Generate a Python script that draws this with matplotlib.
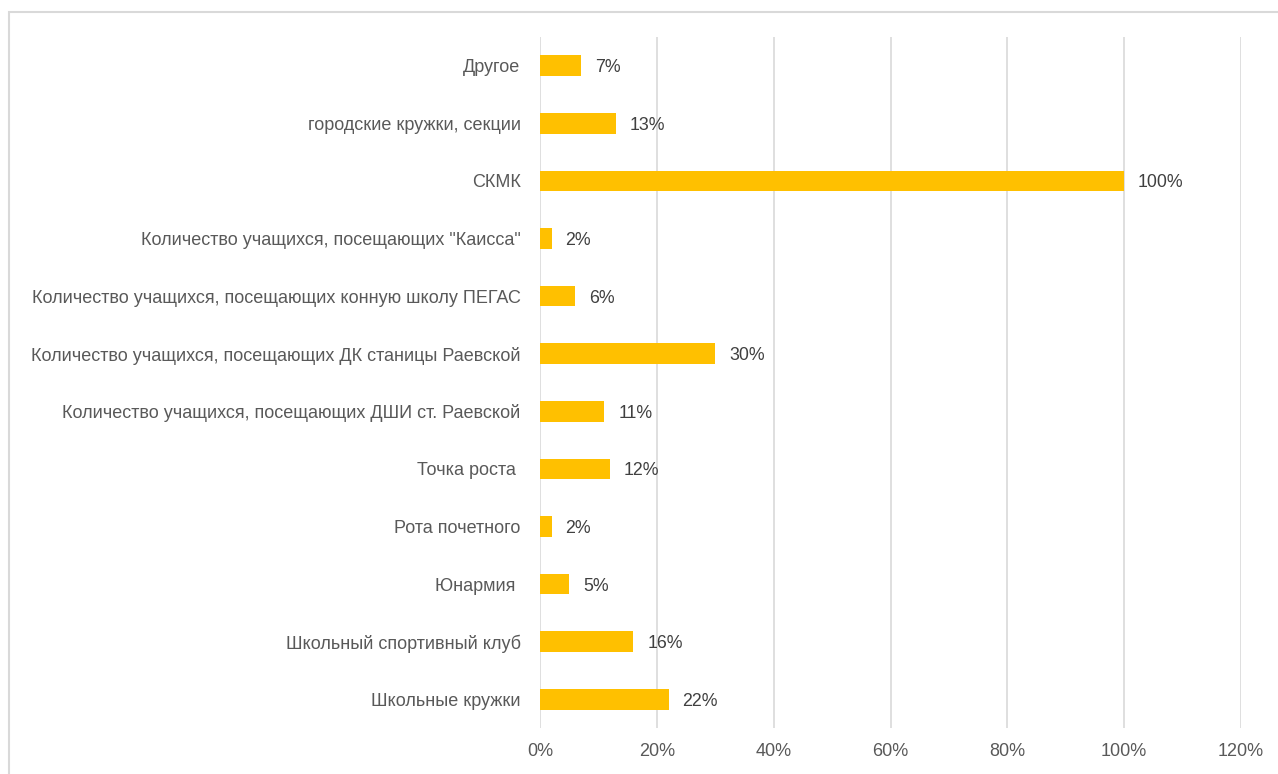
import matplotlib.pyplot as plt
from matplotlib.patches import Rectangle
from matplotlib.ticker import FuncFormatter

categories = [
    "Другое",
    "городские кружки, секции",
    "СКМК",
    'Количество учащихся, посещающих "Каисса"',
    "Количество учащихся, посещающих конную школу ПЕГАС",
    "Количество учащихся, посещающих ДК станицы Раевской",
    "Количество учащихся, посещающих ДШИ ст. Раевской",
    "Точка роста ",
    "Рота почетного",
    "Юнармия ",
    "Школьный спортивный клуб",
    "Школьные кружки",
]
values = [7, 13, 100, 2, 6, 30, 11, 12, 2, 5, 16, 22]
x_ticks = [0, 20, 40, 60, 80, 100, 120]

BAR = "#FFC000"
TEXT = "#595959"
GRID = "#D9D9D9"

plt.rcParams["font.family"] = ["Liberation Sans", "DejaVu Sans"]

W, H = 1278, 774
fig = plt.figure(figsize=(W / 100, H / 100), dpi=100)
# axes box in pixels: x 540..1241, y 37..728
ax = fig.add_axes([540 / W, 1 - 728 / H, (1241 - 540) / W, (728 - 37) / H])

n = len(categories)
ypos = list(range(n))[::-1]
ax.barh(ypos, values, height=0.36, color=BAR, zorder=3)
for y, v in zip(ypos, values):
    ax.annotate(f"{v}%", (v, y), xytext=(10, 0), textcoords="offset points",
                va="center_baseline", ha="left", fontsize=12.8, color="#404040")

ax.set_xlim(0, 120)
ax.set_ylim(-0.5, n - 0.5)
ax.set_xticks(x_ticks)
ax.xaxis.set_major_formatter(FuncFormatter(lambda v, p: f"{v:.0f}%"))
ax.set_yticks(ypos)
ax.set_yticklabels(categories)
ax.grid(axis="x", color=GRID, linewidth=1.2, zorder=0)
for s in ax.spines.values():
    s.set_visible(False)
ax.tick_params(axis="both", length=0, labelsize=13, labelcolor=TEXT)
ax.tick_params(axis="y", pad=14)
ax.tick_params(axis="x", pad=11)

# chart frame
fig.patches.append(Rectangle((8.5 / W, -0.1), 1.2, 1 - 12 / H + 0.1,
                             transform=fig.transFigure, fill=False,
                             edgecolor="#D9D9D9", linewidth=1.5))

fig.savefig("out.png", dpi=100)
